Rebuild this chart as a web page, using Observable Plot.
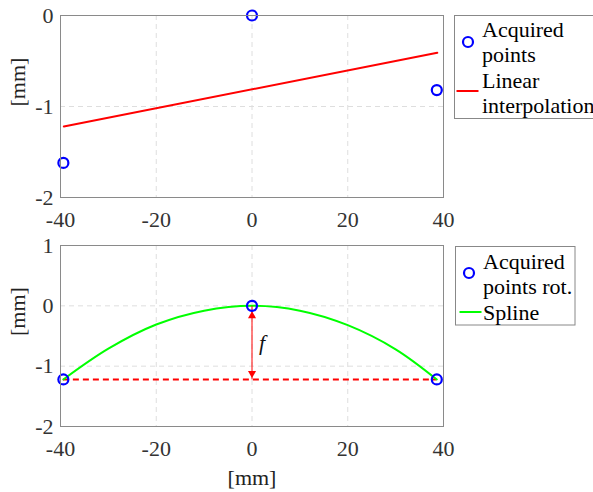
<!DOCTYPE html>
<html>
<head>
<meta charset="utf-8">
<script src="https://cdn.jsdelivr.net/npm/d3@7"></script>
<script src="https://cdn.jsdelivr.net/npm/@observablehq/plot@0.6"></script>
<style>
  body { margin: 0; background: white; }
  #fig { position: relative; width: 593px; height: 492px; overflow: hidden; background: white; font-family: "Liberation Serif", serif; }
  #fig svg, #fig svg text { font-family: "Liberation Serif", "Times New Roman", serif !important; font-variant-numeric: normal !important; }
  .panel { position: absolute; left: 0; }
  .legend { position: absolute; left: 0; top: 0; }
</style>
</head>
<body>
<div id="fig"></div>
<script>
// Measured points (x, y in mm)
const acqX = [-39.4, 0, 38.6];
const acqY = [-1.62, 0, -0.82];
// Straight line through the measured profile
const linX = [-39.3, 38.7];
const linY = [-1.22, -0.41];
// Points after rotation so the ends are level
const rotY = [-1.22, 0, -1.22];
// Spline through the rotated points
const splineX = [-39.4, -30, -20, -10, 0, 10, 20, 30, 38.6];
const splineY = [-1.22, -0.71, -0.31, -0.08, 0, -0.08, -0.32, -0.72, -1.22];
// Tick values
const xTicks = [-40, -20, 0, 20, 40];
const yTicksTop = [-2, -1, 0];
const yTicksBottom = [-2, -1, 0, 1];

const FONT = "'Liberation Serif', 'Times New Roman', serif";
const BLUE = "#0000ff", RED = "#ff0000", GREEN = "#00ff00";
const fmt = d => String(d);

const pts = acqX.map((x, i) => ({x, y: acqY[i]}));
const lin = linX.map((x, i) => ({x, y: linY[i]}));
const rot = acqX.map((x, i) => ({x, y: rotY[i]}));
const spl = splineX.map((x, i) => ({x, y: splineY[i]}));
const chord = [{x1: acqX[0], x2: acqX[2], y: rotY[0]}];
const sag = [{x: acqX[1], y1: rotY[1], y2: rotY[0]}];

const common = (yTicks) => [
  Plot.gridX(xTicks, {stroke: "#dedede", strokeOpacity: 1, strokeDasharray: "5,4"}),
  Plot.gridY(yTicks, {stroke: "#dedede", strokeOpacity: 1, strokeDasharray: "5,4"}),
  Plot.axisX(xTicks, {tickSize: 0, tickPadding: 14, label: null, tickFormat: fmt, fill: "#333", fontSize: 22, fontVariant: "normal", fontFamily: FONT}),
  Plot.axisY(yTicks, {tickSize: 0, tickPadding: 7, label: null, tickFormat: fmt, fill: "#333", fontSize: 22, fontVariant: "normal", fontFamily: FONT}),
  Plot.text(["[mm]"], {frameAnchor: "left", text: d => d, rotate: -90, dx: -43, fill: "#222", fontSize: 22})
];

const topChart = Plot.plot({
  width: 593, height: 240,
  marginLeft: 60, marginRight: 150, marginTop: 15, marginBottom: 43,
  style: {fontSize: "22px", background: "none", overflow: "visible"},
  x: {domain: [-40, 40]},
  y: {domain: [-2, 0]},
  marks: [
    ...common(yTicksTop),
    Plot.line(lin, {x: "x", y: "y", stroke: RED, strokeWidth: 2}),
    Plot.dot(pts, {x: "x", y: "y", r: 5, stroke: BLUE, strokeWidth: 2.2, fill: "none"}),
    Plot.frame({stroke: "#8a8a8a"})
  ]
});

const bottomChart = Plot.plot({
  width: 593, height: 262,
  marginLeft: 60, marginRight: 150, marginTop: 15, marginBottom: 66,
  style: {fontSize: "22px", background: "none", overflow: "visible"},
  x: {domain: [-40, 40]},
  y: {domain: [-2, 1]},
  marks: [
    ...common(yTicksBottom),
    Plot.ruleY(chord, {x1: "x1", x2: "x2", y: "y", stroke: RED, strokeWidth: 2, strokeDasharray: "6,4"}),
    Plot.line(spl, {x: "x", y: "y", curve: "catmull-rom", stroke: GREEN, strokeWidth: 2}),
    // Double-headed arrow marking the sag f
    Plot.link(sag, {x1: "x", x2: "x", y1: "y1", y2: "y2", stroke: RED, strokeWidth: 1}),
    Plot.dot(sag, {x: "x", y: "y1", symbol: "triangle", r: 3, fill: RED, stroke: "none", dy: 10}),
    Plot.dot(sag, {x: "x", y: "y2", symbol: "triangle", r: 3, fill: RED, stroke: "none", rotate: 180, dy: -6}),
    Plot.text(sag, {x: "x", y: d => (d.y1 + d.y2) / 2, text: () => "f", dx: 7, textAnchor: "start", fontStyle: "italic", fill: "#111", fontSize: 22}),
    Plot.dot(rot, {x: "x", y: "y", r: 5, stroke: BLUE, strokeWidth: 2.2, fill: "none"}),
    Plot.text(["[mm]"], {frameAnchor: "bottom", text: d => d, dy: 51, lineAnchor: "middle", fill: "#222", fontSize: 22}),
    Plot.frame({stroke: "#8a8a8a"})
  ]
});

const fig = document.getElementById("fig");
const p1 = document.createElement("div"); p1.className = "panel"; p1.style.top = "0px"; p1.appendChild(topChart);
const p2 = document.createElement("div"); p2.className = "panel"; p2.style.top = "230px"; p2.appendChild(bottomChart);
fig.appendChild(p1); fig.appendChild(p2);

// Legends
const svg = d3.select(fig).append("svg").attr("class", "legend")
  .attr("width", 593).attr("height", 492)
  .style("font-size", "22px");

function legend(box, entries) {
  svg.append("rect").attr("x", box.x).attr("y", box.y).attr("width", box.w).attr("height", box.h)
    .attr("fill", "white").attr("stroke", "#888").attr("stroke-width", 1);
  for (const e of entries) {
    if (e.type === "dot") {
      svg.append("circle").attr("cx", e.sx).attr("cy", e.sy).attr("r", 5)
        .attr("fill", "none").attr("stroke", e.color).attr("stroke-width", 2.2);
    } else {
      svg.append("line").attr("x1", e.sx - 11).attr("x2", e.sx + 11).attr("y1", e.sy).attr("y2", e.sy)
        .attr("stroke", e.color).attr("stroke-width", 2);
    }
    e.lines.forEach((t, i) => {
      svg.append("text").attr("x", e.tx).attr("y", e.ty + i * 25.3).attr("fill", "#000").text(t);
    });
  }
}

legend({x: 454.5, y: 15.5, w: 142, h: 103}, [
  {type: "dot", color: BLUE, sx: 468, sy: 42, tx: 482, ty: 37, lines: ["Acquired", "points"]},
  {type: "line", color: RED, sx: 467.5, sy: 91, tx: 482, ty: 88, lines: ["Linear", "interpolation"]}
]);
legend({x: 455.5, y: 246.5, w: 119.5, h: 78.5}, [
  {type: "dot", color: BLUE, sx: 469, sy: 273, tx: 483, ty: 269, lines: ["Acquired", "points rot."]},
  {type: "line", color: GREEN, sx: 470.5, sy: 312, tx: 483, ty: 319.5, lines: ["Spline"]}
]);

// Same serif face on every label
d3.selectAll("#fig text").style("font-family", FONT).style("font-variant", "normal");
</script>
</body>
</html>
